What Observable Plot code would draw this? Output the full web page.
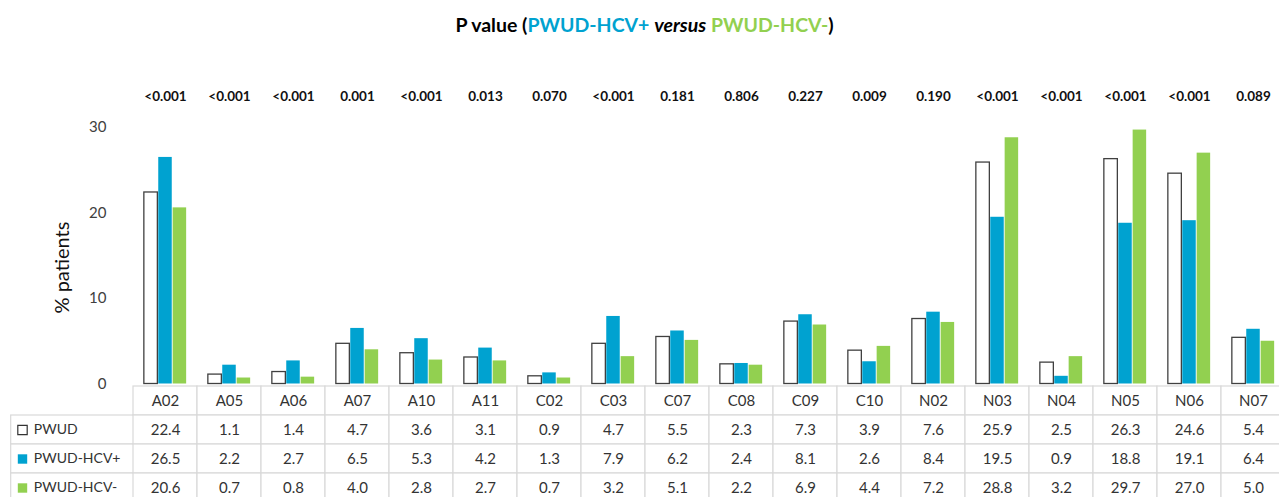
<!DOCTYPE html>
<html>
<head>
<meta charset="utf-8">
<script src="https://cdn.jsdelivr.net/npm/d3@7"></script>
<script src="https://cdn.jsdelivr.net/npm/@observablehq/plot@0.6"></script>
<style>
  html, body { margin: 0; padding: 0; background: #fff; overflow: hidden; width: 1279px; height: 497px; }
  #title { height: 50px; line-height: 50px; text-align: center; font-family: Lato, "Open Sans", sans-serif; font-weight: bold; font-size: 19.5px; color: #000; padding-left: 10px; }
  #title .pos { color: #00A2D0; }
  #title .neg { color: #92D050; }
  #title i { font-style: italic; }
  #chart svg { display: block; overflow: visible; }
  #table svg { display: block; overflow: hidden; background: transparent !important; }
  #table { position: relative; }
</style>
</head>
<body>
<div id="title">P value (<span class="pos">PWUD-HCV+</span> <i>versus</i> <span class="neg">PWUD-HCV-</span>)</div>
<div id="chart"></div>
<div id="table"></div>
<script>
const categories = ["A02","A05","A06","A07","A10","A11","C02","C03","C07","C08","C09","C10","N02","N03","N04","N05","N06","N07"];
const seriesNames = ["PWUD","PWUD-HCV+","PWUD-HCV-"];
const pwud   = [22.4,1.1,1.4,4.7,3.6,3.1,0.9,4.7,5.5,2.3,7.3,3.9,7.6,25.9,2.5,26.3,24.6,5.4];
const hcvPos = [26.5,2.2,2.7,6.5,5.3,4.2,1.3,7.9,6.2,2.4,8.1,2.6,8.4,19.5,0.9,18.8,19.1,6.4];
const hcvNeg = [20.6,0.7,0.8,4.0,2.8,2.7,0.7,3.2,5.1,2.2,6.9,4.4,7.2,28.8,3.2,29.7,27.0,5.0];
const pValues = ["<0.001","<0.001","<0.001","0.001","<0.001","0.013","0.070","<0.001","0.181","0.806","0.227","0.009","0.190","<0.001","<0.001","<0.001","<0.001","0.089"];
const yTicks = [0, 10, 20, 30];

const colors = {"PWUD": "#ffffff", "PWUD-HCV+": "#00A2D0", "PWUD-HCV-": "#92D050"};
const font = "Lato, 'Open Sans', sans-serif";

const seriesValues = [pwud, hcvPos, hcvNeg];
const rows = [];
seriesNames.forEach((s, si) => categories.forEach((c, i) => rows.push({series: s, cat: c, value: seriesValues[si][i]})));

const colW = 64.9;
const x0 = 124.7;
const xRange = [x0, x0 + categories.length * colW];
const barW = 14.4;
const inset = (colW - barW) / 2;
const offsets = [-barW, 0, barW];

const chart = Plot.plot({
  width: 1279,
  height: 334,
  marginLeft: 110,
  marginRight: 0,
  marginTop: 46,
  marginBottom: 0,
  style: {fontFamily: font, background: "transparent", overflow: "visible"},
  x: {type: "band", domain: categories, range: xRange, padding: 0, axis: null},
  y: {domain: [0, 30], range: [333.5, 77], axis: null},
  marks: [
    Plot.axisY({ticks: yTicks, tickSize: 0, tickPadding: 4, label: null, fontSize: 15, fill: "#404040", anchor: "left"}),
    ...seriesNames.map((s, si) => Plot.barY(rows.filter(d => d.series === s), {
      x: "cat", y: "value",
      fill: colors[s],
      stroke: s === "PWUD" ? "#404040" : "none",
      strokeWidth: 1.3,
      insetLeft: inset, insetRight: inset,
      dx: offsets[si]
    })),
    Plot.text(categories, {x: d => d, text: (d, i) => pValues[i], frameAnchor: "top", lineAnchor: "middle", fontWeight: "bold", fontSize: 13.5, fill: "#111"}),
    Plot.text(["% patients"], {text: d => d, frameAnchor: "left", rotate: -90, dx: -48, dy: 73, fontSize: 20, fill: "#111"})
  ]
});
document.getElementById("chart").append(chart);

const rowKeys = ["cat", ...seriesNames];
const tableCells = [];
categories.forEach((c, i) => {
  tableCells.push({cat: c, row: "cat", text: c});
  seriesNames.forEach((s, si) => tableCells.push({cat: c, row: s, text: seriesValues[si][i].toFixed(1)}));
});

const table = Plot.plot({
  width: 1279,
  height: 113,
  marginLeft: 10.7,
  marginRight: 0,
  marginTop: 0,
  marginBottom: 0,
  style: {fontFamily: font, background: "transparent"},
  x: {type: "band", domain: categories, range: xRange, padding: 0, axis: null},
  y: {type: "band", domain: rowKeys, range: [0.3, 119.1], padding: 0, axis: null},
  marks: [
    Plot.cell(seriesNames, {y: d => d, fill: "#fff", stroke: "#d9d9d9", strokeWidth: 1.2}),
    Plot.cell(tableCells, {x: "cat", y: "row", fill: "#fff", stroke: "#d9d9d9", strokeWidth: 1.2}),
    Plot.text(tableCells, {x: "cat", y: "row", text: "text", fontSize: 15, fill: "#333"}),
    Plot.dot(seriesNames, {y: d => d, frameAnchor: "left", dx: 11.3, symbol: "square", r: 5.3,
      fill: d => colors[d], stroke: d => d === "PWUD" ? "#333" : "none", strokeWidth: 1.2}),
    Plot.text(seriesNames, {y: d => d, text: d => d, frameAnchor: "left", dx: 22.6, textAnchor: "start", fontSize: 14, fill: "#333"})
  ]
});
document.getElementById("table").append(table);
</script>
</body>
</html>
